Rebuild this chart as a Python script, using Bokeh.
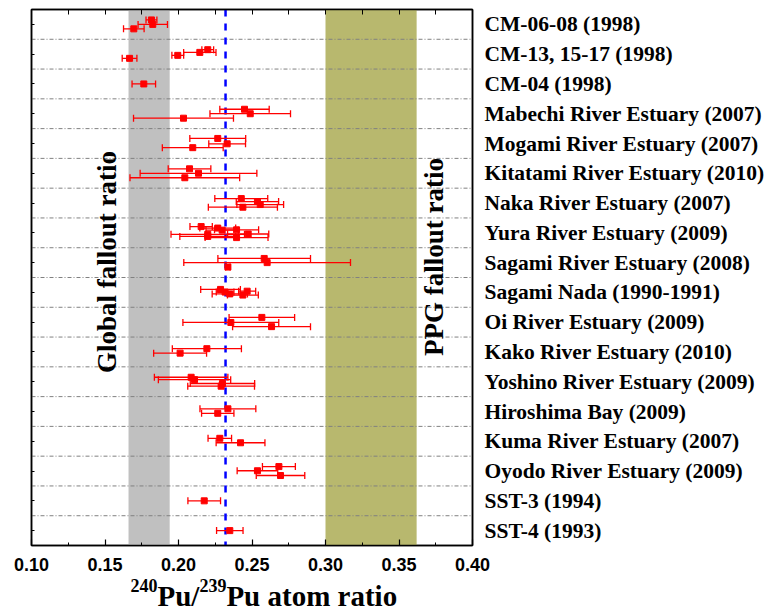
from math import pi
from bokeh.plotting import figure
from bokeh.models import (ColumnDataSource, Range1d, LinearAxis, FixedTicker, Whisker, TeeHead,
                          BoxAnnotation, Span, Label, NumeralTickFormatter)
from bokeh.embed import file_html
from bokeh.resources import INLINE

# ---------------- data ----------------
categories = [
    "CM-06-08 (1998)", "CM-13, 15-17 (1998)", "CM-04 (1998)",
    "Mabechi River Estuary (2007)", "Mogami River Estuary (2007)",
    "Kitatami River Estuary (2010)", "Naka River Estuary (2007)",
    "Yura River Estuary (2009)", "Sagami River Estuary (2008)",
    "Sagami Nada (1990-1991)", "Oi River Estuary (2009)",
    "Kako River Estuary (2010)", "Yoshino River Estuary (2009)",
    "Hiroshima Bay (2009)", "Kuma River Estuary (2007)",
    "Oyodo River Estuary (2009)", "SST-3 (1994)", "SST-4 (1993)",
]

sample_site = (
    ["CM-06-08 (1998)"] * 3
    + ["CM-13, 15-17 (1998)"] * 4
    + ["CM-04 (1998)"] * 1
    + ["Mabechi River Estuary (2007)"] * 3
    + ["Mogami River Estuary (2007)"] * 3
    + ["Kitatami River Estuary (2010)"] * 3
    + ["Naka River Estuary (2007)"] * 4
    + ["Yura River Estuary (2009)"] * 8
    + ["Sagami River Estuary (2008)"] * 3
    + ["Sagami Nada (1990-1991)"] * 5
    + ["Oi River Estuary (2009)"] * 3
    + ["Kako River Estuary (2010)"] * 2
    + ["Yoshino River Estuary (2009)"] * 4
    + ["Hiroshima Bay (2009)"] * 2
    + ["Kuma River Estuary (2007)"] * 2
    + ["Oyodo River Estuary (2009)"] * 3
    + ["SST-3 (1994)"] * 1
    + ["SST-4 (1993)"] * 1
)

ratio = [
    0.1816, 0.1825, 0.1696,
    0.2199, 0.2145, 0.1995, 0.1667,
    0.1764,
    0.2449, 0.2488, 0.2034,
    0.2267, 0.2331, 0.2097,
    0.2075, 0.2136, 0.2043,
    0.2427, 0.2537, 0.2556, 0.2438,
    0.2154, 0.2267, 0.2297, 0.2395, 0.2474, 0.2199, 0.2199, 0.2395,
    0.2583, 0.2603, 0.2336,
    0.2286, 0.2317, 0.2467, 0.2349, 0.2438,
    0.2567, 0.2356, 0.2633,
    0.2193, 0.2011,
    0.2086, 0.2109, 0.2299, 0.2290,
    0.2336, 0.2267,
    0.2281, 0.2422,
    0.2683, 0.2537, 0.2694,
    0.2175,
    0.2349,
]

ratio_err = [
    0.0037, 0.0100, 0.0070,
    0.0040, 0.0110, 0.0040, 0.0050,
    0.0080,
    0.0168, 0.0274, 0.0340,
    0.0190, 0.0125, 0.0207,
    0.0145, 0.0397, 0.0373,
    0.0180, 0.0144, 0.0159, 0.0235,
    0.0076, 0.0122, 0.0110, 0.0150, 0.0140, 0.0250, 0.0190, 0.0214,
    0.0315, 0.0567, 0.0015,
    0.0135, 0.0060, 0.0058, 0.0120, 0.0105,
    0.0223, 0.0326, 0.0265,
    0.0235, 0.0180,
    0.0250, 0.0246, 0.0219, 0.0227,
    0.0190, 0.0110,
    0.0080, 0.0166,
    0.0112, 0.0138, 0.0165,
    0.0111,
    0.0090,
]

# vertical jitter of each sample inside its site row (fraction of a row)
row_offset = [
    0.15, 0.00, -0.15,
    0.15, 0.06, -0.04, -0.14,
    0.00,
    0.15, 0.00, -0.15,
    0.17, -0.01, -0.14,
    0.15, 0.00, -0.15,
    0.15, 0.05, -0.05, -0.14,
    0.21, 0.16, 0.09, 0.10, -0.04, -0.05, -0.12, -0.16,
    0.14, 0.00, -0.15,
    0.10, 0.01, 0.04, -0.05, -0.09,
    0.16, -0.01, -0.15,
    0.11, -0.04,
    0.15, 0.07, -0.06, -0.15,
    0.09, -0.06,
    0.10, -0.05,
    0.15, 0.01, -0.15,
    0.00,
    0.00,
]

global_fallout = (0.166, 0.194)
ppg_fallout = (0.300, 0.362)
reference_ratio = 0.232

x_ticks = [0.10, 0.15, 0.20, 0.25, 0.30, 0.35, 0.40]
x_minor = [0.125, 0.175, 0.225, 0.275, 0.325, 0.375]

# x-axis title pieces: (text, is_superscript)
title_parts = [("240", True), ("Pu/", False), ("239", True), ("Pu atom ratio", False)]

# ---------------- derived ----------------
n = len(categories)
center = {c: n - i - 0.5 for i, c in enumerate(categories)}
ys = [center[s] + o for s, o in zip(sample_site, row_offset)]
src = ColumnDataSource(dict(
    x=ratio, y=ys,
    lower=[r - e for r, e in zip(ratio, ratio_err)],
    upper=[r + e for r, e in zip(ratio, ratio_err)],
))

SERIF = "Liberation Serif"
SANS = "Liberation Sans"

FRAME_W, FRAME_H = 441, 536

p = figure(frame_width=FRAME_W, frame_height=FRAME_H,
           x_range=Range1d(0.10, 0.40), y_range=Range1d(0, n),
           output_backend="svg", toolbar_location=None,
           min_border_left=31, min_border_top=9,
           min_border_right=0, min_border_bottom=0)
p.xgrid.visible = False
p.ygrid.visible = False
p.outline_line_color = "black"
p.outline_line_width = 1.5
p.background_fill_color = "white"

# bottom axis
xa = p.xaxis[0]
xa.ticker = FixedTicker(ticks=x_ticks, minor_ticks=x_minor)
xa.formatter = NumeralTickFormatter(format="0.00")
xa.major_tick_in = 6
xa.major_tick_out = 0
xa.minor_tick_in = 3
xa.minor_tick_out = 0
xa.axis_line_width = 1.5
xa.major_tick_line_width = 1.2
xa.major_label_standoff = 12
xa.major_label_text_font = SANS
xa.major_label_text_font_style = "bold"
xa.major_label_text_font_size = "18px"
xa.major_label_text_color = "black"

# left axis (ticks at site centres, no labels)
ya = p.yaxis[0]
ya.ticker = FixedTicker(ticks=list(center.values()))
ya.major_label_overrides = {v: "" for v in center.values()}
ya.major_label_standoff = 0
ya.major_tick_in = 3
ya.major_tick_out = 0
ya.minor_tick_in = 0
ya.minor_tick_out = 0
ya.axis_line_width = 1.5

# top axis (mirror ticks)
top = LinearAxis(ticker=FixedTicker(ticks=x_ticks + x_minor),
                 major_label_overrides={t: "" for t in x_ticks + x_minor},
                 major_label_standoff=0,
                 major_tick_in=5, major_tick_out=0, minor_tick_in=0, minor_tick_out=0,
                 axis_line_width=1.5)
p.add_layout(top, "above")

# right axis with site names
right = LinearAxis(ticker=FixedTicker(ticks=list(center.values())),
                   major_label_overrides={v: k for k, v in center.items()},
                   major_tick_in=0, major_tick_out=0, minor_tick_in=0, minor_tick_out=0,
                   major_label_standoff=12, axis_line_width=1.5,
                   major_label_text_font=SERIF, major_label_text_font_style="bold",
                   major_label_text_font_size="21.5px", major_label_text_color="black")
p.add_layout(right, "right")

# x-axis title with superscripts: two label-only axes stacked below the tick labels
px_per_x = FRAME_W / 0.30
MAIN_SIZE, SUP_SIZE = 29, 18
em = {"240": 1.5, "239": 1.5, "Pu/": 1.445, "Pu atom ratio": 5.888}  # Times bold advance widths
cursor = 99.0  # px from frame left where the title starts
sup_labels, main_labels = {}, {}
for text, sup in title_parts:
    size = SUP_SIZE if sup else MAIN_SIZE
    w = em[text] * size
    xc = round(0.10 + (cursor + w / 2) / px_per_x, 5)
    (sup_labels if sup else main_labels)[xc] = text
    cursor += w

def label_axis(labels, size, standoff):
    ax = LinearAxis(ticker=FixedTicker(ticks=list(labels.keys())),
                    major_label_overrides=labels,
                    axis_line_color=None, major_tick_line_color=None, minor_tick_line_color=None,
                    major_tick_in=0, major_tick_out=0, minor_tick_in=0, minor_tick_out=0,
                    major_label_standoff=standoff,
                    major_label_text_font=SERIF, major_label_text_font_style="bold",
                    major_label_text_font_size=f"{size}px", major_label_text_color="black")
    p.add_layout(ax, "below")
    return ax

label_axis(sup_labels, SUP_SIZE, 5)
label_axis(main_labels, MAIN_SIZE, -15)

# bands
p.add_layout(BoxAnnotation(left=global_fallout[0], right=global_fallout[1],
                           fill_color="#C0C0C0", fill_alpha=1, line_color=None, level="underlay"))
p.add_layout(BoxAnnotation(left=ppg_fallout[0], right=ppg_fallout[1],
                           fill_color="#B8B86E", fill_alpha=1, line_color=None, level="underlay"))

# row separators
for b in range(1, n):
    p.add_layout(Span(location=b, dimension="width", line_color="#808080",
                      line_dash="4 2 1 2", line_width=1, level="underlay"))

# reference line
p.add_layout(Span(location=reference_ratio, dimension="height", line_color="#0000FF",
                  line_dash="7 7", line_width=2.5, level="underlay"))

# error bars and points
p.add_layout(Whisker(source=src, base="y", lower="lower", upper="upper", dimension="width",
                     line_color="red", line_width=1.3, level="underlay",
                     upper_head=TeeHead(size=7, line_color="red", line_width=1.3),
                     lower_head=TeeHead(size=7, line_color="red", line_width=1.3)))
p.scatter("x", "y", source=src, marker="square", size=6, color="red")

# vertical annotations
p.add_layout(Label(x=0.1517, y=9.52, text="Global fallout ratio", angle=pi / 2,
                   text_align="center", text_baseline="middle", text_font=SERIF,
                   text_font_style="bold", text_font_size="27px", text_color="black"))
p.add_layout(Label(x=0.3741, y=9.69, text="PPG fallout ratio", angle=pi / 2,
                   text_align="center", text_baseline="middle", text_font=SERIF,
                   text_font_style="bold", text_font_size="27px", text_color="black"))

open("out.html", "w").write(file_html(p, INLINE))
